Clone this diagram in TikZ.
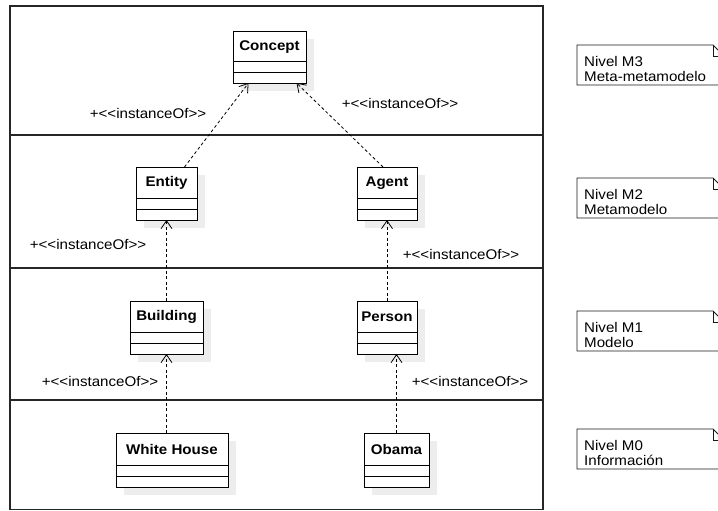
\documentclass[tikz,border=0pt]{standalone}
\usepackage{fontspec}
\setmainfont{Liberation Sans}[FakeStretch=1.08]
\usetikzlibrary{arrows.meta}

\tikzset{
  frameline/.style={draw=black!85, line width=1.1pt},
  classbox/.style={draw=black, fill=white, line width=0.9pt, inner sep=0pt, outer sep=0pt},
  shadowfill/.style={fill=black!7},
  classname/.style={font=\fontsize{14}{16}\selectfont\bfseries, inner sep=0pt},
  dep/.style={draw=black, line width=0.8pt, dash pattern=on 3pt off 2.5pt,
    -{Straight Barb[length=8pt,width=11pt,line width=0.8pt]}},
  deplabel/.style={font=\fontsize{14}{16}\selectfont, inner sep=0pt},
  notebox/.style={draw=black!90, line width=0.8pt, fill=white},
  notetext/.style={font=\fontsize{14}{15}\selectfont, align=left, inner sep=0pt, anchor=north west},
}

% UML class with name and two empty compartments:
% #1 name, #2 left, #3 top, #4 right, #5 bottom, #6 label
\newcommand\umlclass[6]{%
  \fill[shadowfill] (#2+8,#3+8) rectangle (#4+8,#5+8);
  \node[classbox, minimum width={#4-#2}, minimum height={#5-#3}]
    (#1) at ({(#2+#4)/2},{(#3+#5)/2}) {};
  \draw[line width=0.9pt] ([yshift=22pt]#1.south west) -- ([yshift=22pt]#1.south east);
  \draw[line width=0.9pt] ([yshift=11pt]#1.south west) -- ([yshift=11pt]#1.south east);
  \node[classname] (#1-name) at ([yshift=-16pt]#1.north) {#6};
}

% Level note with folded corner: #1 name, #2 top, #3 text
\newcommand\levelnote[3]{%
  \draw[notebox] (577,#2) -- (713,#2) -- (724,#2+11) -- (724,#2+40) -- (577,#2+40) -- cycle;
  \draw[line width=0.8pt, draw=black!90] (713,#2) -- (713,#2+11) -- (724,#2+11);
  \node[notetext] (#1) at (584,#2+11) {#3};
}

\newcommand\instof{+<{}<instanceOf>{}>}

\begin{document}
\begin{tikzpicture}[x=1pt, y=-1pt]
  \useasboundingbox (0,0) rectangle (718,511);

  % layer frame and separators
  \draw[frameline] (10,6) rectangle (543,509.5);
  \draw[frameline] (10,135) -- (543,135);
  \draw[frameline] (10,268) -- (543,268);
  \draw[frameline] (10,400) -- (543,400);

  % classes
  \umlclass{concept}{233}{31}{306}{83}{Concept}
  \umlclass{entity}{136}{167}{197}{220}{Entity}
  \umlclass{agent}{357}{167}{417}{220}{Agent}
  \umlclass{building}{130}{301}{203}{354}{Building}
  \umlclass{person}{357}{301}{417}{354}{Person}
  \umlclass{whitehouse}{116}{433}{228}{487}{White House}
  \umlclass{obama}{364}{433}{429}{487}{Obama}

  % instanceOf dependencies
  \draw[dep] ([xshift=18pt]entity.north) -- ([xshift=-21pt]concept.south);
  \draw[dep] ([xshift=-4pt]agent.north) -- ([xshift=27pt]concept.south);
  \draw[dep] (building.north) -- (entity.south);
  \draw[dep] (person.north) -- (agent.south);
  \draw[dep] (whitehouse.north -| building.south) -- (building.south);
  \draw[dep] (obama.north) -- (obama.north |- person.south);

  \node[deplabel] (l1) at (148,113) {\instof};
  \node[deplabel] (l2) at (400,103) {\instof};
  \node[deplabel] (l3) at (88,244) {\instof};
  \node[deplabel] (l4) at (461,254) {\instof};
  \node[deplabel] (l5) at (100,381) {\instof};
  \node[deplabel] (l6) at (470,381) {\instof};

  % level notes
  \levelnote{m3}{45}{Nivel M3\\Meta-metamodelo}
  \levelnote{m2}{178}{Nivel M2\\Metamodelo}
  \levelnote{m1}{311}{Nivel M1\\Modelo}
  \levelnote{m0}{429}{Nivel M0\\Información}
\end{tikzpicture}
\end{document}
